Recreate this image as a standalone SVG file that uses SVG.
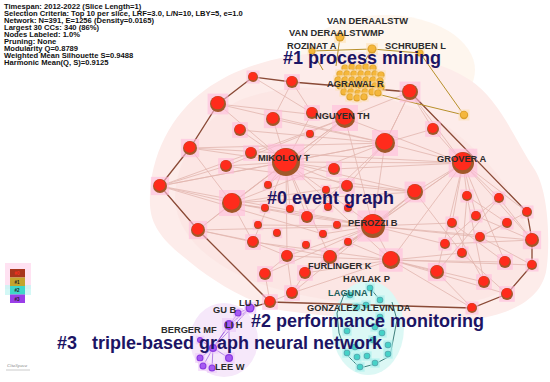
<svg xmlns="http://www.w3.org/2000/svg" xmlns:xlink="http://www.w3.org/1999/xlink" width="550" height="382" viewBox="0 0 550 382">
<style>
.info{font:bold 7.6px "Liberation Sans",Arial,sans-serif;fill:#111}
.lab{font:bold 9.3px "Liberation Sans",Arial,sans-serif;fill:#2b2b2b}
.cl{font:bold 18px "Liberation Sans",Arial,sans-serif;fill:#1c1464}
.le{stroke:#c9877a;stroke-width:.8;opacity:.5;fill:none}
.hull{stroke:#8a4a36;stroke-width:1.3;fill:none}
.yl{stroke:#b8902a;stroke-width:1;fill:none}
.cy{stroke:#3f7f7c;stroke-width:1;fill:none}
.pl{stroke:#9a58e0;stroke-width:.9;fill:none;opacity:.8}
.lg{font:bold 4.5px "Liberation Sans",Arial,sans-serif}
</style>
<defs>
<g id="rn"><rect x="-13" y="-13" width="26" height="26" fill="#ffbcdc" opacity=".6"/><circle r="10" fill="#a0582a"/><circle cx="-.5" cy="-1.5" r="8.2" fill="#ff2b1c"/></g>
<g id="yn"><rect x="-13" y="-13" width="26" height="26" fill="#fde0b0" opacity=".6"/><circle r="10" fill="#dba02a"/><circle cy="-1" r="7.5" fill="#f5b73c"/></g>
<g id="cn"><rect x="-14" y="-14" width="28" height="28" fill="#a8f0ec" opacity=".7"/><circle r="10" fill="#5aa9b0"/><circle r="7.5" fill="#45d2c8"/></g>
<g id="pn"><rect x="-14" y="-14" width="28" height="28" fill="#ecc8f8" opacity=".6"/><circle r="10" fill="#8a3ae0"/><circle r="7" fill="#a65af2"/></g>
</defs>
<rect width="550" height="382" fill="#fff"/>

<!-- cluster areas -->
<g id="areas">
<ellipse cx="385" cy="70" rx="90" ry="55" fill="#fef4ea" opacity=".8"/>
<path d="M150,205 C148,160 170,115 205,90 C235,68 275,55 330,52 C390,50 440,60 470,80 C500,100 515,140 535,170 C550,195 550,250 546,272 C540,300 510,315 470,320 C410,322 330,318 280,310 C240,300 205,275 185,258 C162,240 151,225 150,205 Z" fill="#fdecea"/>
<path d="M175,200 C175,160 200,120 240,100 C290,80 360,85 420,110 C470,135 520,190 530,240 C535,280 500,300 450,305 C380,310 300,300 250,280 C205,260 178,235 175,200 Z" fill="#f9dcda" opacity=".35"/>
<ellipse cx="368" cy="328" rx="36" ry="47" fill="#dcf8f5"/>
<ellipse cx="224" cy="340" rx="34" ry="37" fill="#f6e8fa"/>
</g>

<!-- connectors -->
<g id="connectors">
<g class="le">
<path d="M286,162L218,104M286,162L240,130M286,162L273,119M286,162L312,113M286,162L190,148M286,162L251,153M286,162L226,166M286,162L160,186M286,162L232,203M286,162L268,185M286,162L347,186M286,162L385,143M286,162L415,192M286,162L373,226M286,162L307,217M286,162L253,242M286,162L198,230M286,162L330,257M286,162L287,256M286,162L391,260M286,162L463,163M286,162L334,169M286,162L345,118M286,162L290,209"/>
<path d="M463,163L410,92M463,163L433,129M463,163L385,143M463,163L415,192M463,163L467,196M463,163L499,198M463,163L527,212M463,163L476,216M463,163L452,223M463,163L373,226M463,163L391,260M463,163L330,257M463,163L345,118M463,163L334,169M463,163L532,240M463,163L505,262M463,163L437,272"/>
<path d="M373,226L232,203M373,226L307,217M373,226L337,225M373,226L258,225M373,226L323,234M373,226L348,242M373,226L391,260M373,226L330,257M373,226L287,256M373,226L445,244M373,226L480,237M373,226L532,240M373,226L452,223M373,226L415,192M373,226L385,143M373,226L345,118M373,226L198,230M373,226L160,186M373,226L265,274M373,226L305,273"/>
<path d="M385,143L273,119M385,143L218,104M385,143L190,148M385,143L433,129M385,143L410,92M385,143L232,203M385,143L307,217M385,143L347,186M385,143L160,186"/>
<path d="M345,118L251,153M345,118L226,166M345,118L232,203M345,118L312,113M345,118L410,92M345,118L268,185"/>
<path d="M391,260L305,273M391,260L437,272M391,260L484,282M391,260L462,253M391,260L505,262M391,260L532,265M391,260L348,242M391,260L287,256M391,260L507,294M391,260L292,293M391,260L472,308M437,272L472,308"/>
<path d="M415,192L232,203M415,192L347,186M415,192L462,253M415,192L330,257M415,192L292,293"/>
<path d="M232,203L160,186M232,203L190,148M232,203L198,230M232,203L253,242M232,203L307,217M232,203L265,208M232,203L347,186"/>
<path d="M467,196L507,223M499,198L476,216M476,216L532,240M452,223L505,262M480,237L532,265M445,244L532,240M462,253L507,294M467,196L484,282M499,198L437,272M476,216L445,244M507,223L480,237M452,223L484,282M527,212L480,237M499,198L532,240M467,196L462,253"/>
<path d="M287,256L265,274M330,257L305,273M265,274L270,302M305,273L292,293M292,293L270,302M287,256L292,293M198,230L253,242M253,242L287,256M160,186L198,230M160,186L323,234M160,186L251,153M160,186L226,166M190,148L463,163M218,104L345,118M253,77L312,113M292,82L273,119M292,82L312,113M410,92L433,129M410,92L385,143M240,130L385,143M226,166L415,192M198,230L330,257M253,242L391,260"/>
</g>
<path class="hull" d="M253,77L292,82L410,92L527,212L532,240L532,265L507,294L472,308L270,302L198,230L160,186L190,148L218,104L253,77"/>
<path class="hull" d="M270,302L250,308" stroke-width=".9"/>
<g class="yl">
<path d="M312,51L372,49L420,53L464,115M340,37L336,66M312,51L323,70M373,93L464,115M372,49L362,66"/>
</g>
<path class="cy" d="M345,292L337,313L339,333L347,355L360,368L375,364L390,356L397,320L392,302M370,288L380,300"/>
<g class="pl">
<path d="M250,308L238,313M250,308L229,325M250,308L213,348M238,313L213,348M229,325L213,348M213,348L200,358M213,348L203,366M213,348L212,368M213,348L229,358M229,325L229,358M200,340L213,348"/>
</g>
</g>

<!-- red nodes -->
<g id="cluster0">
<use id="n1" href="#rn" transform="translate(253 77) scale(.5)"/>
<use id="n2" href="#rn" transform="translate(292 82) scale(.6)"/>
<use id="n3" href="#rn" transform="translate(410 92) scale(.8)"/>
<use id="n4" href="#rn" transform="translate(218 104) scale(.8)"/>
<use id="n5" href="#rn" transform="translate(273 119) scale(.7)"/>
<use id="n6" href="#rn" transform="translate(312 113) scale(.6)"/>
<use id="n8" href="#rn" transform="translate(240 130) scale(.6)"/>
<use id="n9" href="#rn" transform="translate(310 134) scale(.4)"/>
<use id="n10" href="#rn" transform="translate(433 129) scale(.6)"/>
<use id="n11" href="#rn" transform="translate(385 143) scale(1)"/>
<use id="n12" href="#rn" transform="translate(190 148) scale(.7)"/>
<use id="n13" href="#rn" transform="translate(251 153) scale(.6)"/>
<use id="n16" href="#rn" transform="translate(226 166) scale(.6)"/>
<use id="n17" href="#rn" transform="translate(334 169) scale(.6)"/>
<use id="n18" href="#rn" transform="translate(160 186) scale(.7)"/>
<use id="n19" href="#rn" transform="translate(268 185) scale(.4)"/>
<use id="n20" href="#rn" transform="translate(347 186) scale(.6)"/>
<use id="n21" href="#rn" transform="translate(326 190) scale(.4)"/>
<use id="n22" href="#rn" transform="translate(415 192) scale(.8)"/>
<use id="n23" href="#rn" transform="translate(232 203) scale(1)"/>
<use id="n24" href="#rn" transform="translate(265 208) scale(.4)"/>
<use id="n25" href="#rn" transform="translate(290 209) scale(.4)"/>
<use id="n26" href="#rn" transform="translate(328 207) scale(.4)"/>
<use id="n27" href="#rn" transform="translate(348 208) scale(.4)"/>
<use id="n28" href="#rn" transform="translate(307 217) scale(.6)"/>
<use id="n30" href="#rn" transform="translate(337 225) scale(.4)"/>
<use id="n31" href="#rn" transform="translate(258 225) scale(.4)"/>
<use id="n32" href="#rn" transform="translate(467 196) scale(.5)"/>
<use id="n33" href="#rn" transform="translate(499 198) scale(.5)"/>
<use id="n34" href="#rn" transform="translate(527 212) scale(.5)"/>
<use id="n35" href="#rn" transform="translate(476 216) scale(.5)"/>
<use id="n36" href="#rn" transform="translate(452 223) scale(.5)"/>
<use id="n37" href="#rn" transform="translate(507 223) scale(.5)"/>
<use id="n38" href="#rn" transform="translate(198 230) scale(.7)"/>
<use id="n39" href="#rn" transform="translate(277 233) scale(.4)"/>
<use id="n40" href="#rn" transform="translate(323 234) scale(.4)"/>
<use id="n41" href="#rn" transform="translate(253 242) scale(.6)"/>
<use id="n42" href="#rn" transform="translate(348 242) scale(.4)"/>
<use id="n43" href="#rn" transform="translate(306 245) scale(.4)"/>
<use id="n44" href="#rn" transform="translate(480 237) scale(.5)"/>
<use id="n45" href="#rn" transform="translate(532 240) scale(.7)"/>
<use id="n46" href="#rn" transform="translate(445 244) scale(.5)"/>
<use id="n47" href="#rn" transform="translate(462 253) scale(.5)"/>
<use id="n48" href="#rn" transform="translate(287 256) scale(.6)"/>
<use id="n49" href="#rn" transform="translate(330 257) scale(.7)"/>
<use id="n50" href="#rn" transform="translate(391 260) scale(.9)"/>
<use id="n51" href="#rn" transform="translate(505 262) scale(.6)"/>
<use id="n52" href="#rn" transform="translate(532 265) scale(.5)"/>
<use id="n53" href="#rn" transform="translate(265 274) scale(.6)"/>
<use id="n54" href="#rn" transform="translate(305 273) scale(.6)"/>
<use id="n55" href="#rn" transform="translate(437 272) scale(.7)"/>
<use id="n56" href="#rn" transform="translate(484 282) scale(.6)"/>
<use id="n57" href="#rn" transform="translate(292 293) scale(.6)"/>
<use id="n58" href="#rn" transform="translate(270 302) scale(.6)"/>
<use id="n59" href="#rn" transform="translate(507 294) scale(.6)"/>
<use id="n60" href="#rn" transform="translate(472 308) scale(.5)"/>
</g>
<g id="nguyen"><use href="#rn" transform="translate(345 118) scale(1)"/><text class="lab" x="315" y="119">NGUYEN TH</text></g>
<g id="mikolov"><use href="#rn" transform="translate(286 162) scale(1.4)"/><text class="lab" x="258" y="161">MIKOLOV T</text></g>
<g id="grover"><use href="#rn" transform="translate(463 163) scale(1.1)"/><text class="lab" x="437" y="162">GROVER A</text></g>
<g id="perozzi"><use href="#rn" transform="translate(373 226) scale(1.2)"/><text class="lab" x="348" y="226">PEROZZI B</text></g>
<g id="furlinger"><text class="lab" x="308" y="269">FURLINGER K</text></g>
<g id="havlak"><text class="lab" x="343" y="282">HAVLAK P</text></g>

<!-- yellow cluster -->
<g id="cluster1">
<use href="#yn" transform="translate(340 37) scale(.45)"/>
<use href="#yn" transform="translate(372 49) scale(.45)"/>
<use href="#yn" transform="translate(312 51) scale(.35)"/>
<use href="#yn" transform="translate(420 53) scale(.35)"/>
<use href="#yn" transform="translate(464 115) scale(.42)"/>
<use href="#yn" transform="translate(345 68) scale(.36)"/><use href="#yn" transform="translate(352 67) scale(.36)"/><use href="#yn" transform="translate(359 68) scale(.36)"/><use href="#yn" transform="translate(366 67) scale(.36)"/><use href="#yn" transform="translate(373 68) scale(.36)"/>
<use href="#yn" transform="translate(340 74) scale(.36)"/><use href="#yn" transform="translate(347 74) scale(.36)"/><use href="#yn" transform="translate(354 74) scale(.36)"/><use href="#yn" transform="translate(361 74) scale(.36)"/><use href="#yn" transform="translate(368 74) scale(.36)"/><use href="#yn" transform="translate(375 74) scale(.36)"/><use href="#yn" transform="translate(381 75) scale(.36)"/>
<use href="#yn" transform="translate(338 80) scale(.36)"/><use href="#yn" transform="translate(345 80) scale(.36)"/><use href="#yn" transform="translate(352 80) scale(.36)"/><use href="#yn" transform="translate(359 80) scale(.36)"/><use href="#yn" transform="translate(366 80) scale(.36)"/><use href="#yn" transform="translate(373 80) scale(.36)"/><use href="#yn" transform="translate(380 81) scale(.36)"/>
<use href="#yn" transform="translate(340 86) scale(.36)"/><use href="#yn" transform="translate(347 86) scale(.36)"/><use href="#yn" transform="translate(354 87) scale(.36)"/><use href="#yn" transform="translate(361 86) scale(.36)"/><use href="#yn" transform="translate(368 87) scale(.36)"/><use href="#yn" transform="translate(375 86) scale(.36)"/><use href="#yn" transform="translate(381 87) scale(.36)"/>
<use href="#yn" transform="translate(344 92) scale(.36)"/><use href="#yn" transform="translate(351 92) scale(.36)"/><use href="#yn" transform="translate(358 93) scale(.36)"/><use href="#yn" transform="translate(365 92) scale(.36)"/><use href="#yn" transform="translate(372 92) scale(.36)"/><use href="#yn" transform="translate(378 93) scale(.36)"/>
<use href="#yn" transform="translate(350 97) scale(.36)"/><use href="#yn" transform="translate(357 98) scale(.36)"/><use href="#yn" transform="translate(364 97) scale(.36)"/>
</g>
<g id="vanderaalstw"><text class="lab" x="327" y="24">VAN DERAALSTW</text></g>
<g id="vanderaalstwmp"><text class="lab" x="289" y="36">VAN DERAALSTWMP</text></g>
<g id="rozinat"><text class="lab" x="287" y="49">ROZINAT A</text></g>
<g id="schruben"><text class="lab" x="385" y="49">SCHRUBEN L</text></g>
<g id="agrawal"><text class="lab" x="327" y="87">AGRAWAL R</text></g>

<!-- cyan cluster -->
<g id="cluster2">
<use href="#cn" transform="translate(370 288) scale(.33)"/><use href="#cn" transform="translate(350 295) scale(.33)"/><use href="#cn" transform="translate(380 300) scale(.33)"/><use href="#cn" transform="translate(357 307) scale(.33)"/><use href="#cn" transform="translate(366 305) scale(.33)"/><use href="#cn" transform="translate(380 317) scale(.33)"/><use href="#cn" transform="translate(375 327) scale(.33)"/><use href="#cn" transform="translate(382 333) scale(.33)"/><use href="#cn" transform="translate(347 331) scale(.33)"/><use href="#cn" transform="translate(373 340) scale(.33)"/><use href="#cn" transform="translate(388 345) scale(.33)"/><use href="#cn" transform="translate(355 347) scale(.33)"/><use href="#cn" transform="translate(347 353) scale(.33)"/><use href="#cn" transform="translate(357 357) scale(.33)"/><use href="#cn" transform="translate(367 356) scale(.33)"/><use href="#cn" transform="translate(388 354) scale(.33)"/><use href="#cn" transform="translate(375 363) scale(.33)"/><use href="#cn" transform="translate(360 367) scale(.33)"/>
</g>
<g id="laguna"><text class="lab" x="328" y="296" style="fill:#1d5d58">LAGUNA I</text></g>
<g id="gonzalez"><text class="lab" x="307" y="311">GONZALEZ J</text></g>
<g id="levin"><text class="lab" x="367" y="311">LEVIN DA</text></g>

<!-- purple cluster -->
<g id="cluster3">
<use href="#pn" transform="translate(250 308) scale(.45)"/><use href="#pn" transform="translate(238 313) scale(.35)"/><use href="#pn" transform="translate(229 325) scale(.5)"/><use href="#pn" transform="translate(213 348) scale(.4)"/><use href="#pn" transform="translate(200 358) scale(.35)"/><use href="#pn" transform="translate(203 366) scale(.35)"/><use href="#pn" transform="translate(212 368) scale(.35)"/><use href="#pn" transform="translate(229 358) scale(.4)"/><use href="#pn" transform="translate(200 340) scale(.3)"/>
</g>
<g id="luj"><text class="lab" x="239" y="306">LU J</text></g>
<g id="gub"><text class="lab" x="213" y="313">GU B</text></g>
<g id="lih"><text class="lab" x="225" y="328">LI H</text></g>
<g id="berger"><text class="lab" x="161" y="333">BERGER MF</text></g>
<g id="leew"><text class="lab" x="215" y="370">LEE W</text></g>

<!-- cluster titles -->
<text class="cl" x="283" y="64">#1 process mining</text>
<text class="cl" x="267" y="204">#0 event graph</text>
<text class="cl" x="251" y="327">#2 performance monitoring</text>
<text class="cl" y="349"><tspan x="57">#3</tspan><tspan x="92">triple-based graph neural network</tspan></text>

<!-- info -->
<g id="info">
<text class="info" x="4" y="8.5">Timespan: 2012-2022 (Slice Length=1)</text>
<text class="info" x="4" y="15.5">Selection Criteria: Top 10 per slice, LRF=3.0, L/N=10, LBY=5, e=1.0</text>
<text class="info" x="4" y="22.5">Network: N=391, E=1256 (Density=0.0165)</text>
<text class="info" x="4" y="29.5">Largest 30 CCs: 340 (86%)</text>
<text class="info" x="4" y="36.5">Nodes Labeled: 1.0%</text>
<text class="info" x="4" y="43.5">Pruning: None</text>
<text class="info" x="4" y="50.5">Modularity Q=0.8789</text>
<text class="info" x="4" y="57.5">Weighted Mean Silhouette S=0.9488</text>
<text class="info" x="4" y="64.5">Harmonic Mean(Q, S)=0.9125</text>
</g>

<!-- legend -->
<g id="legend">
<rect x="5" y="263" width="26" height="26" fill="#ffd6ec" opacity=".7"/>
<rect x="5" y="285" width="26" height="10" fill="#c8f6f4" opacity=".8"/>
<rect x="10" y="269" width="15" height="8.5" fill="#a8361c"/>
<rect x="10" y="277.5" width="15" height="8.5" fill="#c4a42c"/>
<rect x="10" y="286" width="15" height="8.5" fill="#3fd6c8"/>
<rect x="10" y="294.5" width="15" height="8.5" fill="#9a3ee8"/>
<text class="lg" x="14.5" y="275" fill="#ff3020">#0</text>
<text class="lg" x="14.5" y="283.5" fill="#222">#1</text>
<text class="lg" x="14.5" y="292" fill="#222">#2</text>
<text class="lg" x="14.5" y="300.5" fill="#222">#3</text>
<text x="7" y="367" style="font:italic 5px 'Liberation Serif',serif;fill:#8a8a8a">CiteSpace</text>
<path d="M6,370 L30,370" stroke="#aaa" stroke-width=".6"/>
</g>
</svg>
